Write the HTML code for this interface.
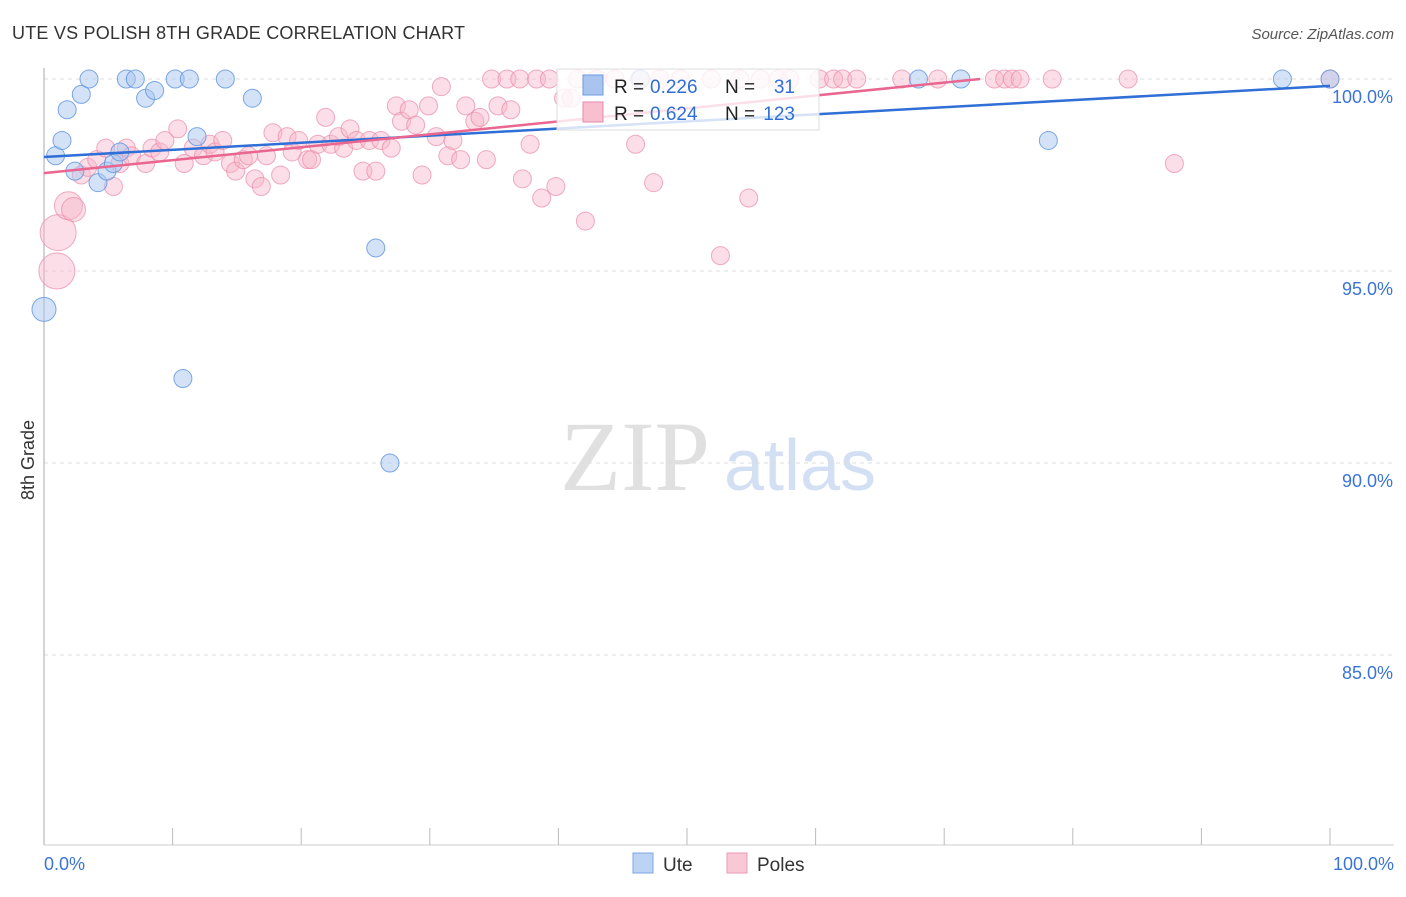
<!DOCTYPE html>
<html><head><meta charset="utf-8"><style>
body{margin:0;background:#fff;font-family:"Liberation Sans",sans-serif}
#wrap{position:relative;width:1406px;height:892px}
</style></head><body>
<div id="wrap">
<svg id="svg" width="1406" height="892" xmlns="http://www.w3.org/2000/svg">
<text x="12" y="39" font-size="18" fill="#333" textLength="453">UTE VS POLISH 8TH GRADE CORRELATION CHART</text>
<text x="1394" y="39" font-size="15" fill="#555" font-style="italic" text-anchor="end">Source: ZipAtlas.com</text>
<text x="34" y="460" font-size="18" fill="#333" transform="rotate(-90 34 460)" text-anchor="middle">8th Grade</text>
<text x="635" y="490" font-size="100" fill="#e0e0e0" font-family="Liberation Serif" text-anchor="middle">ZIP</text>
<text x="800" y="490" font-size="72" fill="#d3e0f4" text-anchor="middle">atlas</text>
<g id="grid"></g><g id="pts"></g><g id="lines"></g>
<g>
<rect x="557" y="69" width="262" height="61" fill="#fff" fill-opacity="0.8" stroke="#ddd"/>
<rect x="583" y="75" width="20" height="20" fill="#a9c4ee" stroke="#6b9be0"/>
<text y="93" font-size="19" fill="#222"><tspan x="614">R =</tspan><tspan x="650" fill="#2f6fd6">0.226</tspan><tspan x="725">N =</tspan><tspan x="795" text-anchor="end" fill="#2f6fd6">31</tspan></text>
<rect x="583" y="102" width="20" height="20" fill="#f7bfd0" stroke="#ea8aa8"/>
<text y="120" font-size="19" fill="#222"><tspan x="614">R =</tspan><tspan x="650" fill="#2f6fd6">0.624</tspan><tspan x="725">N =</tspan><tspan x="795" text-anchor="end" fill="#2f6fd6">123</tspan></text>
</g>
<g>
<rect x="633" y="853" width="20" height="20" fill="#bcd3f4" stroke="#7da6e4"/>
<text x="663" y="871" font-size="19" fill="#333">Ute</text>
<rect x="727" y="853" width="20" height="20" fill="#f9c8d6" stroke="#eb9ab3"/>
<text x="757" y="871" font-size="19" fill="#333">Poles</text>
</g>
</svg></div>
<script>
const yTicks=[100,95,90,85];
const xTickLabels=["0.0%","100.0%"];
const uteX=[0,0.9,1.4,1.8,2.4,2.9,3.5,4.2,4.9,5.4,5.9,6.4,7.1,7.9,8.6,10.2,11.3,10.8,11.9,14.1,16.2,25.8,26.9,46.4,68.0,71.3,78.1,96.3,100];
const uteY=[94.0,98.0,98.4,99.2,97.6,99.6,100,97.3,97.6,97.8,98.1,100,100,99.5,99.7,100,100,92.2,98.5,100,99.5,95.6,90.0,100,100,100,98.4,100,100];
const uteR=[12,9,9,9,9,9,9,9,9,9,9,9,9,9,9,9,9,9,9,9,9,9,9,9,9,9,9,9,9];
const polX=[1.0,1.1,1.9,2.3,2.9,3.4,4.1,4.8,5.4,5.9,6.4,6.8,7.9,8.4,9.0,9.4,10.4,10.9,11.6,12.4,12.9,13.3,13.9,14.5,14.9,15.5,15.9,16.4,16.9,17.3,17.8,18.4,18.9,19.3,19.8,20.5,20.8,21.3,21.9,22.3,22.9,23.3,23.8,24.3,24.8,25.3,25.8,26.2,27.0,27.4,27.8,28.4,28.9,29.4,29.9,30.5,30.9,31.4,31.8,32.4,32.8,33.5,33.9,34.4,35.3,36.3,37.2,37.8,38.7,39.8,40.4,41.0,42.1,47.4,46.0,52.6,54.8,87.9,34.8,36.0,37.0,38.3,39.3,41.5,43.0,44.4,46.3,47.9,49.5,51.9,54.1,55.7,57.1,58.0,60.3,61.4,62.1,63.2,66.7,69.5,73.9,74.7,75.3,75.9,78.4,84.3,100];
const polY=[95.0,96.0,96.7,96.6,97.5,97.7,97.9,98.2,97.2,97.8,98.2,98.0,97.8,98.2,98.1,98.4,98.7,97.8,98.2,98.0,98.3,98.1,98.4,97.8,97.6,97.9,98.0,97.4,97.2,98.0,98.6,97.5,98.5,98.1,98.4,97.9,97.9,98.3,99.0,98.3,98.5,98.2,98.7,98.4,97.6,98.4,97.6,98.4,98.2,99.3,98.9,99.2,98.8,97.5,99.3,98.5,99.8,98.0,98.4,97.9,99.3,98.9,99.0,97.9,99.3,99.2,97.4,98.3,96.9,97.2,99.5,99.5,96.3,97.3,98.3,95.4,96.9,97.8,100,100,100,100,100,100,100,100,100,100,100,100,100,100,100,100,100,100,100,100,100,100,100,100,100,100,100,100,100];
const polR=[18,18,14,12];
const uteLine=[[0,97.97],[100,99.82]];
const polLine=[[0,97.55],[72.8,100]];
const X=v=>44+v*12.86, Y=v=>79+(100-v)*38.4;
const NS="http://www.w3.org/2000/svg";
function mk(t,a,p){const e=document.createElementNS(NS,t);for(const k in a)e.setAttribute(k,a[k]);p.appendChild(e);return e;}
const grid=document.getElementById('grid');
yTicks.forEach(t=>{
 const l=mk('line',{x1:44,x2:1394,y1:Y(t),y2:Y(t),stroke:'#ddd','stroke-dasharray':'4,4'},grid);
 
 
 const tx=mk('text',{x:1393,y:Y(t)+24,'font-size':18,fill:'#3a74d6','text-anchor':'end'},grid);
 tx.textContent=t.toFixed(1)+'%';
 
 
});
const ax=mk('line',{x1:44,x2:44,y1:68,y2:845,stroke:'#aaa'},grid);


const bx=mk('line',{x1:44,x2:1394,y1:845,y2:845,stroke:'#ccc'},grid);


for(let i=1;i<=10;i++){const t=mk('line',{x1:X(i*10),x2:X(i*10),y1:828,y2:845,stroke:'#bbb'},grid);
 
 }
[[0,'start',44],[100,'end',1394]].forEach((d,i)=>{const t=mk('text',{x:d[2],y:870,'font-size':18,fill:'#3a74d6','text-anchor':d[1]},grid);t.textContent=xTickLabels[i];
 
 });
const pts=document.getElementById('pts');
polX.forEach((v,i)=>{const c=mk('circle',{cx:X(v),cy:Y(polY[i]),r:polR[i]||9,fill:'#f7b6c9','fill-opacity':0.45,stroke:'#ea8aa8','stroke-opacity':0.7},pts);
 
 });
uteX.forEach((v,i)=>{const c=mk('circle',{cx:X(v),cy:Y(uteY[i]),r:uteR[i],fill:'#a9c6f0','fill-opacity':0.5,stroke:'#5d93e0','stroke-opacity':0.8},pts);
 
 });
const lines=document.getElementById('lines');
const l1=mk('line',{x1:X(uteLine[0][0]),y1:Y(uteLine[0][1]),x2:X(uteLine[1][0]),y2:Y(uteLine[1][1]),stroke:'#2f6fd6','stroke-width':2.5},lines);


const l2=mk('line',{x1:X(polLine[0][0]),y1:Y(polLine[0][1]),x2:X(polLine[1][0]),y2:Y(polLine[1][1]),stroke:'#e8668f','stroke-width':2.5},lines);


</script></body></html>
